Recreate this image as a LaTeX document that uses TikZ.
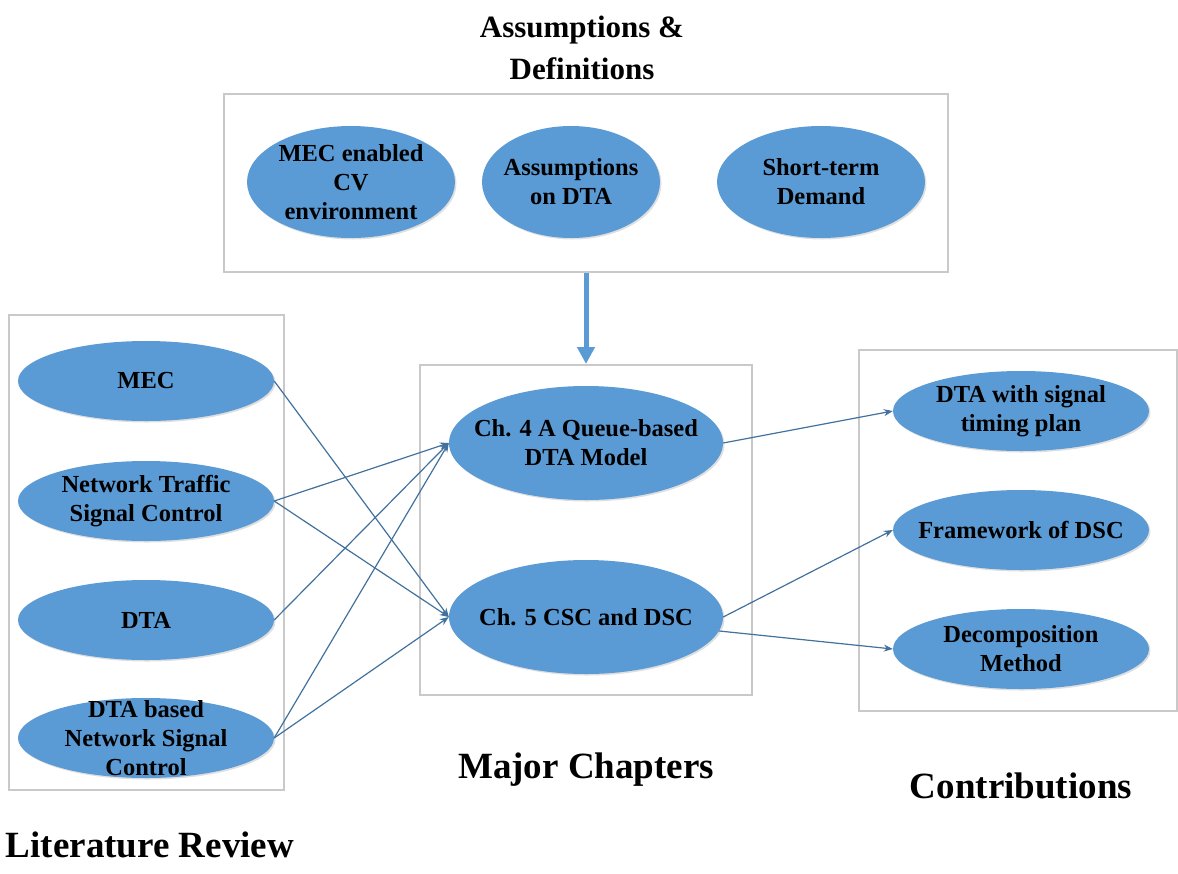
\documentclass[tikz,border=0pt]{standalone}
\usepackage{fontspec}
\setmainfont{Liberation Serif}
\usepackage{tikz}
\usetikzlibrary{arrows.meta,positioning,shapes.geometric,shadows}

\definecolor{ovalblue}{HTML}{5B9BD5}
\definecolor{linkblue}{HTML}{41719C}
\definecolor{boxgray}{HTML}{C9C9C9}

\begin{document}
\begin{tikzpicture}[
  x=1pt,y=-1pt,
  font=\fontsize{24.5}{29}\selectfont\bfseries,
  % Styles
  groupbox/.style={draw=boxgray,line width=2pt},
  oval/.style={ellipse,fill=ovalblue,inner sep=0pt,
    drop shadow={opacity=0.25,shadow xshift=1.5pt,shadow yshift=-1.5pt}},
  ovaltext/.style={align=center,inner sep=0pt},
  bigoval/.style={oval,minimum width=208pt,minimum height=112pt},
  sideoval/.style={oval,minimum width=256pt,minimum height=80pt},
  midoval/.style={oval,minimum width=274pt,minimum height=114pt},
  heading/.style={font=\fontsize{37}{42}\selectfont\bfseries,align=center},
  arrowstyle/.style={-{Stealth[length=9pt,width=7pt]},draw=linkblue,line width=1.2pt},
  ]
\useasboundingbox (0,0) rectangle (1178,873);

%--- Assumptions box ------------------------------------------------
\node[groupbox,minimum width=724pt,minimum height=178pt] (assbox) at (586,183) {};
\node[bigoval] (mecenv) at (351,182) {};
\node[bigoval,minimum width=178pt] (assdta) at (571,182) {};
\node[bigoval] (demand) at (821,182) {};
\node[ovaltext] (mecenvtxt) at (mecenv) {MEC enabled\\CV\\environment};
\node[ovaltext] (assdtatxt) at (assdta) {Assumptions\\on DTA};
\node[ovaltext] (demandtxt) at (demand) {Short-term\\Demand};
\node[heading,font=\fontsize{31}{42}\selectfont\bfseries] (asslabel) at (582,48) {Assumptions \&\\Definitions};

%--- Literature box -------------------------------------------------
\node[groupbox,minimum width=275pt,minimum height=475pt] (litbox) at (146.5,552.5) {};
\node[sideoval] (mec) at (146,381) {};
\node[sideoval] (ntsc) at (146,501) {};
\node[sideoval] (dta) at (146,620) {};
\node[sideoval] (dtansc) at (146,738) {};
\node[ovaltext] (mectxt) at (mec) {MEC};
\node[ovaltext] (ntsctxt) at (ntsc) {Network Traffic\\Signal Control};
\node[ovaltext] (dtatxt) at (dta) {DTA};
\node[ovaltext] (dtansctxt) at (dtansc) {DTA based\\Network Signal\\Control};
\node[heading,anchor=base] (litlabel) at (150,857) {Literature Review};

%--- Chapters box ---------------------------------------------------
\node[groupbox,minimum width=332pt,minimum height=330pt] (chapbox) at (586,530) {};
\node[midoval] (chfour) at (586,443) {};
\node[midoval] (chfive) at (586,617) {};
\node[ovaltext] (chfourtxt) at (chfour) {Ch. 4 A Queue-based\\DTA Model};
\node[ovaltext] (chfivetxt) at (chfive) {Ch. 5 CSC and DSC};
\node[heading] (chaplabel) at (586,770) {Major Chapters};

%--- Contributions box ----------------------------------------------
\node[groupbox,minimum width=318pt,minimum height=361pt] (contbox) at (1018,530.5) {};
\node[sideoval] (timing) at (1021,411) {};
\node[sideoval] (frame) at (1021,530) {};
\node[sideoval] (decomp) at (1021,649) {};
\node[ovaltext] (timingtxt) at (timing) {DTA with signal\\timing plan};
\node[ovaltext] (frametxt) at (frame) {Framework of DSC};
\node[ovaltext] (decomptxt) at (decomp) {Decomposition\\Method};
\node[heading] (contlabel) at (1021,786) {Contributions};

%--- Connections ----------------------------------------------------
% Assumptions feed the chapters
\draw[-{Triangle[length=17pt,width=17pt]},draw=ovalblue,line width=5pt]
  (assbox.south) -- (chapbox.north);

% Literature to chapters
\draw[arrowstyle] (mec.east) -- (chfive.west);
\draw[arrowstyle] (ntsc.east) -- (chfour.west);
\draw[arrowstyle] (ntsc.east) -- (chfive.west);
\draw[arrowstyle] (dta.east) -- (chfour.west);
\draw[arrowstyle] (dtansc.east) -- (chfour.west);
\draw[arrowstyle] (dtansc.east) -- (chfive.west);

% Chapters to contributions
\draw[arrowstyle] (chfour.east) -- (timing.west);
\draw[arrowstyle] (chfive.east) -- (frame.west);
\draw[arrowstyle] (chfive.-6.5) -- (decomp.west);

\end{tikzpicture}
\end{document}
